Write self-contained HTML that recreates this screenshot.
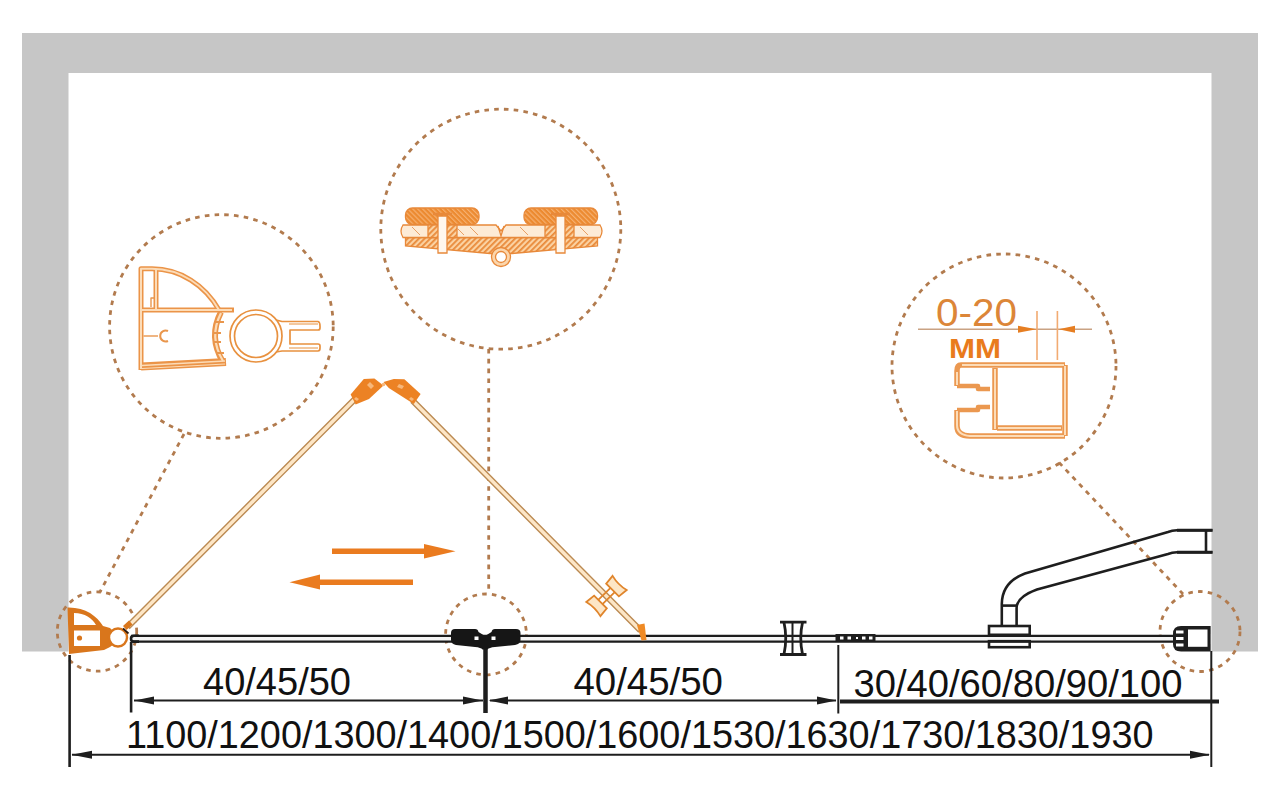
<!DOCTYPE html>
<html><head><meta charset="utf-8"><style>
html,body{margin:0;padding:0;background:#fff;width:1280px;height:800px;overflow:hidden}
svg{display:block}
text{font-family:"Liberation Sans",sans-serif}
</style></head><body>
<svg width="1280" height="800" viewBox="0 0 1280 800">
<rect width="1280" height="800" fill="#fff"/>
<!-- wall frame -->
<path d="M22 33H1258V651.5H1211.5V73H68.5V651.5H22Z" fill="#c6c6c6"/>

<!-- dashed circles -->
<g fill="none" stroke="#b27b4e" stroke-width="2.8" stroke-dasharray="4.6 5.2">
<circle cx="221.4" cy="326.5" r="111.8"/>
<circle cx="500.8" cy="229.2" r="120"/>
<circle cx="1004" cy="366" r="112"/>
<circle cx="97" cy="631.5" r="39.7"/>
<circle cx="486" cy="634.4" r="40.4"/>
<circle cx="1200" cy="631.5" r="40"/>
<path d="M184 434L100 592"/>
<path d="M488.7 349V594"/>
<path d="M1059 462.5L1183 594"/>
</g>

<!-- glass line -->
<rect x="131" y="636" width="1044" height="5" fill="#f4f4f4"/>
<path d="M131 635.8H1175M131 641.6H1175" stroke="#1c1c1c" stroke-width="2.3"/>

<!-- doors -->
<g fill="#fde6c6" stroke="#bb8a52" stroke-width="1.4">
<path d="M126.3 624.8L353.3 397.3L356.7 400.7L129.7 628.2Z"/>
<path d="M414.7 399.3L641.7 628.3L638.3 631.7L411.3 402.7Z"/>
</g>

<!-- left big-circle profile -->
<g fill="none" stroke-linejoin="round">
<g stroke="#eb9448" stroke-width="5">
<path d="M141 370V268.8H152C180 268.8 205 285 219 310"/>
<path d="M156 269V309.5"/>
<path d="M141 310H234"/>
<path d="M141 366.5L226 362" stroke-width="8"/>
<path d="M221 312Q208 337 223 362" stroke-width="6"/>
</g>
<path d="M221 313Q208.5 337 223 361" stroke="#fcdcb8" stroke-width="2.2"/>
<g stroke="#fcdcb8" stroke-width="2">
<path d="M141 369V268.8H152C180 268.8 205 285 219 310"/>
<path d="M156 270V309.5"/>
<path d="M142 310H232"/>
<path d="M142 365.5L225 361" stroke-width="1.6"/>
<path d="M142 368.5L225 364" stroke-width="1.2"/>
</g>
<g stroke="#e9964c" stroke-width="1.4">
<path d="M143.5 336H158"/>
<path d="M168 331A5.5 5.5 0 1 0 168 341" stroke-width="2"/>
<path d="M151 307V298H154"/>
<path d="M216 322H224M213 333H221M213 342H221M216 353H224" stroke-width="2"/>
</g>
<g stroke="#e8913f" stroke-width="1.7">
<circle cx="256" cy="336" r="26"/>
<circle cx="256" cy="336" r="21.5"/>
<path d="M276 320L282 321.5H318Q320 322 320 326V328Q320 330 318 330H290V344H318Q320 344 320 346V348Q320 351 318 351H282L276 352"/>
<path d="M289 324H318M289 348H318" stroke-width="1.2"/>
</g>
</g>

<!-- top-circle hinge detail -->
<defs>
<pattern id="h1" width="4" height="4" patternUnits="userSpaceOnUse" patternTransform="rotate(45)">
<rect width="4" height="4" fill="#fbd2a2"/><rect width="1.8" height="4" fill="#e98a3a"/>
</pattern>
<pattern id="h2" width="3.5" height="3.5" patternUnits="userSpaceOnUse" patternTransform="rotate(-45)">
<rect width="3.5" height="3.5" fill="#ec8a30"/><rect width="1.2" height="3.5" fill="#f6b070"/>
</pattern>
</defs>
<g stroke="#e8893a" stroke-width="1.3">
<path d="M405.5 237.5H597.5V246L512 253.5H490L405.5 246Z" fill="url(#h1)"/>
<rect x="405.5" y="208" width="73.5" height="16.5" rx="7" fill="url(#h2)"/>
<rect x="524" y="208" width="73.5" height="16.5" rx="7" fill="url(#h2)"/>
<path d="M403 225H496L501 231L506 225H600Q604 231 600 237.5H403Q399 231 403 225Z" fill="#fdebd6"/>
<rect x="428" y="225" width="29" height="12.5" fill="url(#h1)"/>
<rect x="545" y="225" width="29" height="12.5" fill="url(#h1)"/>
<path d="M438 216H447V253H438Z" fill="#fff7ee"/>
<path d="M556 216H565V253H556Z" fill="#fff7ee"/>
<path d="M433 214H452M551 214H570" stroke-width="2.5"/>
<circle cx="501" cy="257" r="9.5" fill="#fbd6ac"/>
<circle cx="501" cy="257" r="5.5" fill="#fff"/>
<path d="M498 226L501 236L504 226" fill="none"/>
</g>
<g fill="none" stroke="#e9a065" stroke-width="1">
<path d="M412 227L420 235M456 227L464 235M470 227L478 235M520 227L528 235M580 227L588 235"/>
</g>

<!-- right circle detail -->
<g fill="none" stroke-linejoin="round">
<g stroke="#eb9850" stroke-width="5.5">
<path d="M1065 365V436M961 365H1065M961 365Q957 365 957 371V386M957 410V426Q957 436 970 436H1065M995 368V430M997 428H1062"/>
<path d="M957 386H978V389H990M957 410H978V407H990" stroke-width="4.5"/>
</g>
<g stroke="#fcdcb8" stroke-width="2">
<path d="M1065 366V435M962 365H1064M995 369V429M998 428H1061"/>
<path d="M957 372V385M957 411V425Q957 435 970 436H1064"/>
</g>
<path d="M998 370H1062V425H998Z" fill="#fff" stroke="none"/>
</g>
<path d="M918 329.3H1092" stroke="#c9a283" stroke-width="1.6"/>
<path d="M1037 311V360M1057.4 311V360" stroke="#f2ab72" stroke-width="1.6"/>
<g fill="#e67e22">
<path d="M1018 325.8L1036.5 329.3L1018 332.8Z"/>
<path d="M1075 325.8L1058.5 329.3L1075 332.8Z"/>
</g>
<text x="936" y="326.2" font-size="39" fill="#dc8638" textLength="81" lengthAdjust="spacingAndGlyphs">0-20</text>
<text x="949" y="357.5" font-size="27.4" font-weight="bold" fill="#e97b1c" textLength="52" lengthAdjust="spacingAndGlyphs">ММ</text>

<!-- apex hinge blocks -->
<g fill="#ec8224">
<path d="M350.6 394.5L363.8 378.9L374.4 378.5L383.5 385.5L369 399L355.6 404.5Z"/>
<path d="M383.5 382L393.8 378.9L404.4 379.2L420.6 393.9L413.8 403.9L388.8 388Z"/>
</g>
<g fill="#f7b77a">
<path d="M370 382L374 386L371 389L367 385Z"/>
<path d="M399 384L404 386L402 389L397 387Z"/>
<path d="M356 397L359 399L357 401L354 399Z"/>
<path d="M411 397L414 399L412 401L409 399Z"/>
<circle cx="383.5" cy="384.5" r="1.8"/>
</g>
<!-- right door handle -->
<g transform="translate(606.5 596) rotate(45.2)" fill="#fde6c6" stroke="#e0852c" stroke-width="1.8">
<path d="M-10 -18.5Q0 -16 10 -18.5L9 -8.5H-9Z"/>
<path d="M-10 18.5Q0 16 10 18.5L9 8.5H-9Z"/>
<path d="M-3 -9V9M3 -9V9" fill="none"/>
</g>
<!-- right door end cap -->
<path d="M637 625L644.5 623.5L646.5 640L641.5 640.5Z" fill="#ef8a25"/>
<!-- left small-circle profile -->
<g>
<path d="M67.5 607.5C85 607 97 616 103 626L110 628L114 632L114 644L110 647L104 650L69 654Z" fill="#d9761c"/>
<path d="M74 613C85 613 92 618 96 625L74 625Z" fill="#fff"/>
<rect x="74" y="630.5" width="26" height="15.5" fill="#fff"/>
<circle cx="79.5" cy="638" r="2.6" fill="#d9761c"/>
<circle cx="118" cy="637.5" r="9" fill="#fff" stroke="#d9761c" stroke-width="2.4"/>
<path d="M123 626L129 620.5L132.5 624.5L126.5 630Z" fill="#d9761c"/>
<path d="M139 635.8H134Q131 635.8 131 638.7Q131 641.6 134 641.6H139" fill="none" stroke="#1c1c1c" stroke-width="2.6"/>
<path d="M123 628.5L128.5 633.5" stroke="#2a1a10" stroke-width="1.8"/>
</g>

<!-- orange arrows -->
<g fill="#ea7b1f">
<rect x="332" y="548.5" width="94" height="5.5"/>
<path d="M424 544L455.5 551.2L424 558.5Z"/>
<rect x="318" y="579.5" width="95" height="5.5"/>
<path d="M320 574.5L289.5 582.2L320 589.5Z"/>
</g>

<!-- dimension lines -->
<g stroke="#1e1e1e" fill="none">
<path d="M69.6 655V767" stroke-width="2.6"/>
<path d="M131.1 642V712.5" stroke-width="2.6"/>
<path d="M485.5 647V713" stroke-width="4.5"/>
<path d="M838.3 645V713.5" stroke-width="2"/>
<path d="M1211.3 651V767" stroke-width="2"/>
<path d="M134 700.6H483" stroke-width="2"/>
<path d="M490 700.6H836" stroke-width="2"/>
<path d="M72 754.7H1209" stroke-width="2"/>
<path d="M840 701.5H1219" stroke-width="4"/>
</g>
<g fill="#1e1e1e">
<path d="M134.4 700.6L154 696.6L154 704.6Z"/>
<path d="M482.5 700.6L463 696.6L463 704.6Z"/>
<path d="M488.5 700.6L508 696.6L508 704.6Z"/>
<path d="M836.5 700.6L817 696.6L817 704.6Z"/>
<path d="M71.5 754.7L92 750.7L92 758.7Z"/>
<path d="M1210 754.7L1190 750.7L1190 758.7Z"/>
</g>

<!-- middle black hinge -->
<path d="M451 633Q451 629 455 629H475Q478 629 478.5 632L485 636L491.5 632Q492 629 495 629H516Q520.5 629 520.5 633V640Q520.5 644 515 645L495 647Q489 647.5 487.5 649.5H482.5Q481 647.5 475 647L456 645Q451 644 451 640Z" fill="#161616"/>
<rect x="474.5" y="636.5" width="4" height="3.5" fill="#fff"/>
<rect x="491.5" y="636.5" width="4" height="3.5" fill="#fff"/>

<!-- roller -->
<g fill="none" stroke="#1e1e1e" stroke-width="2.8">
<path d="M780 622.2H806.5M780 654.5H806.5"/>
<path d="M784 622.5Q787.5 638 784 654.3M802.5 622.5Q799 638 802.5 654.3"/>
<path d="M792.5 622V654.5" stroke-width="2"/>
</g>
<!-- dotted segment -->
<rect x="835.5" y="634" width="40" height="8" fill="#1e1e1e"/>
<g fill="#fff">
<rect x="840" y="636.5" width="3.5" height="3"/>
<rect x="847.5" y="636.5" width="3.5" height="3"/>
<rect x="856" y="637" width="2" height="2"/>
<rect x="862" y="636.5" width="3.5" height="3"/>
<rect x="869" y="636.5" width="3.5" height="3"/>
</g>
<!-- handle -->
<g fill="none" stroke="#1e1e1e" stroke-width="2.6">
<path d="M1212.5 530.3H1177Q1172 530.5 1168 532L1025 573.5Q1002 582 1001.8 604V626"/>
<path d="M1212.5 552.3H1177Q1172 552.5 1168 554L1037 589.5Q1016.6 597 1016.6 608V626"/>
<path d="M1206 530.3V552.3"/>
<path d="M1001.8 605.6H1016.6"/>
<rect x="989" y="626" width="40.7" height="8.8"/>
<rect x="989" y="641.2" width="40.7" height="6"/>
</g>
<path d="M1177 528.8H1212.5V531.8H1177ZM1177 550.8H1212.5V553.8H1177Z" fill="#1e1e1e"/>
<!-- wall profile -->
<path d="M1173 634Q1173 626 1181 626H1210.6V651.5H1181Q1173 651.5 1173 644Z" fill="#1e1e1e"/>
<rect x="1188" y="629.5" width="19.5" height="17.3" fill="#fff"/>
<g fill="#fff">
<rect x="1176" y="630.5" width="7.5" height="3"/>
<rect x="1176" y="637" width="7.5" height="3"/>
<rect x="1176" y="643.5" width="7.5" height="3"/>
</g>

<!-- texts -->
<g fill="#111" font-size="38">
<text x="203" y="694.8" textLength="148" lengthAdjust="spacingAndGlyphs">40/45/50</text>
<text x="573.4" y="695" textLength="149.6" lengthAdjust="spacingAndGlyphs">40/45/50</text>
<text x="853.5" y="696.75" textLength="329" lengthAdjust="spacingAndGlyphs">30/40/60/80/90/100</text>
<text x="126" y="747.5" textLength="1027.5" lengthAdjust="spacingAndGlyphs">1100/1200/1300/1400/1500/1600/1530/1630/1730/1830/1930</text>
</g>
</svg>
</body></html>
